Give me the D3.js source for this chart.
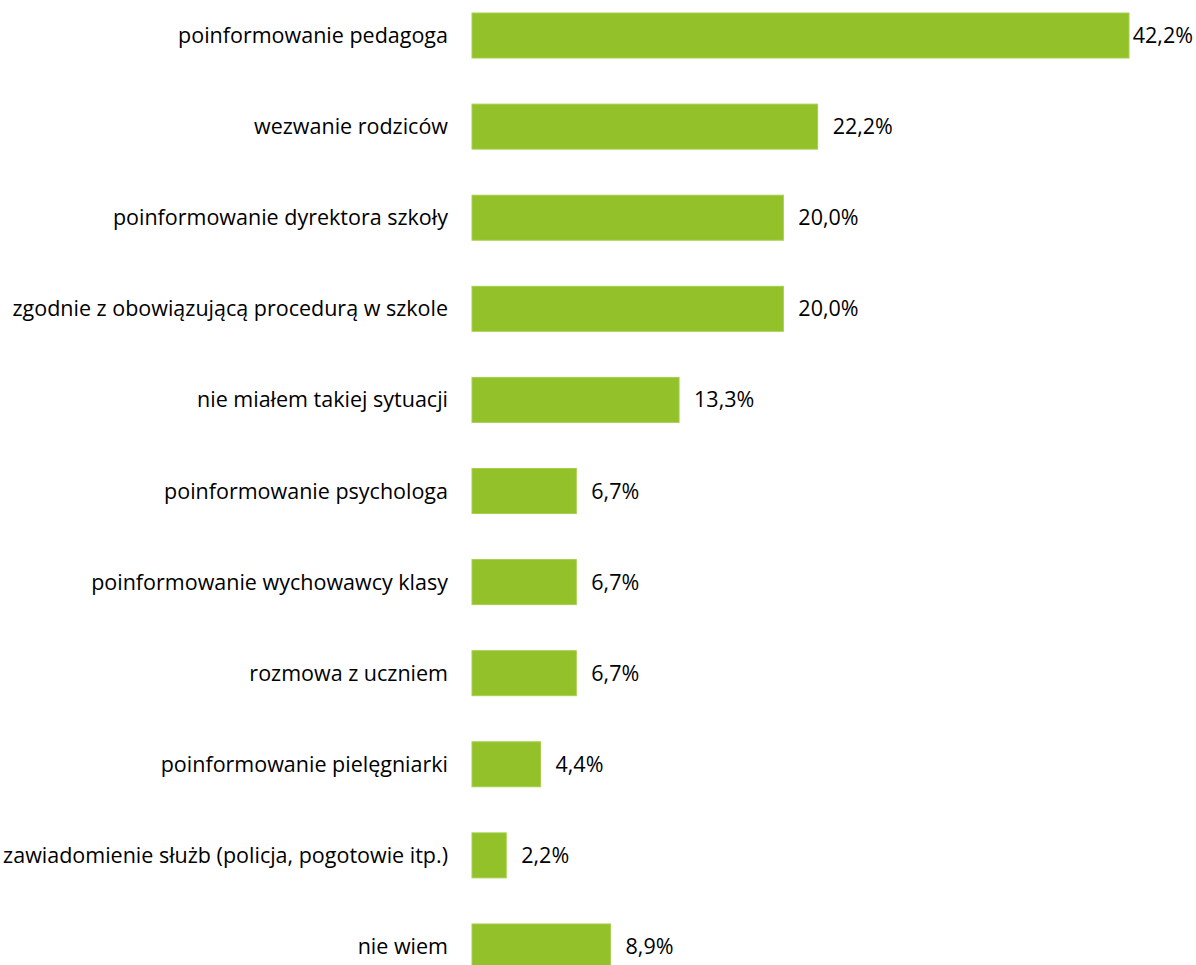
<!DOCTYPE html>
<html>
<head>
<meta charset="utf-8">
<script src="https://cdn.jsdelivr.net/npm/d3@7"></script>
<style>
  html, body { margin: 0; padding: 0; background: #fff; }
  svg { display: block; }
  text { font-family: "Open Sans", Lato, sans-serif; fill: #000; }
</style>
</head>
<body>
<svg id="chart" width="1196" height="965"></svg>
<script>
const categories = [
  "poinformowanie pedagoga",
  "wezwanie rodziców",
  "poinformowanie dyrektora szkoły",
  "zgodnie z obowiązującą procedurą w szkole",
  "nie miałem takiej sytuacji",
  "poinformowanie psychologa",
  "poinformowanie wychowawcy klasy",
  "rozmowa z uczniem",
  "poinformowanie pielęgniarki",
  "zawiadomienie służb (policja, pogotowie itp.)",
  "nie wiem"
];
const values = [42.2, 22.2, 20.0, 20.0, 13.3, 6.7, 6.7, 6.7, 4.4, 2.2, 8.9];
const valueLabels = ["42,2%", "22,2%", "20,0%", "20,0%", "13,3%", "6,7%", "6,7%", "6,7%", "4,4%", "2,2%", "8,9%"];

const W = 1196, H = 965;
const fontSize = 21.5;
const svg = d3.select("#chart");

const x = d3.scaleLinear().domain([0, 42.2]).range([472, 1129]);
const y = d3.scaleBand().domain(categories).range([0, 982])
  .paddingInner(0.506).paddingOuter(0.143);

const data = categories.map((c, i) => ({ c, v: values[i], l: valueLabels[i] }));

svg.selectAll("rect.bar").data(data).join("rect")
  .attr("class", "bar")
  .attr("x", x(0))
  .attr("y", d => y(d.c))
  .attr("width", d => x(d.v) - x(0))
  .attr("height", y.bandwidth())
  .attr("fill", "#92C12A")
  .attr("stroke", "#A6CF4E")
  .attr("stroke-width", 1);

svg.selectAll("text.cat").data(data).join("text")
  .attr("class", "cat")
  .attr("x", x(0) - 24)
  .attr("y", d => y(d.c) + y.bandwidth() / 2)
  .attr("dy", "0.35em")
  .attr("text-anchor", "end")
  .style("font-size", fontSize + "px")
  .text(d => d.c);

svg.selectAll("text.val").data(data).join("text")
  .attr("class", "val")
  .attr("y", d => y(d.c) + y.bandwidth() / 2)
  .attr("dy", "0.35em")
  .style("font-size", fontSize + "px")
  .text(d => d.l)
  .each(function(d) {
    const w = this.getComputedTextLength();
    let xx = x(d.v) + 15;
    if (xx + w > W - 3) xx = W - 3 - w;
    d3.select(this).attr("x", xx);
  });
</script>
</body>
</html>
